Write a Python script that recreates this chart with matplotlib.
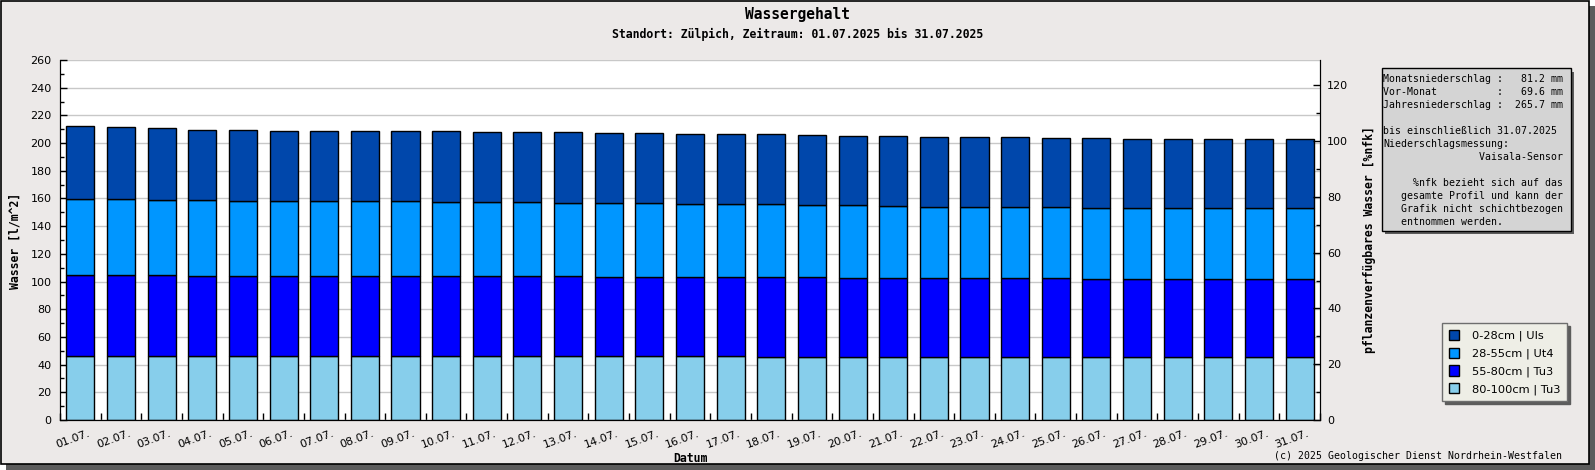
import numpy as np
import matplotlib.pyplot as plt
from matplotlib.patches import Rectangle
from matplotlib.ticker import MultipleLocator
import matplotlib.transforms as mtransforms

# --- data (l/m^2 per soil layer, 01.07.-31.07.2025) ---
days = ['01.07.', '02.07.', '03.07.', '04.07.', '05.07.', '06.07.', '07.07.', '08.07.',
        '09.07.', '10.07.', '11.07.', '12.07.', '13.07.', '14.07.', '15.07.', '16.07.',
        '17.07.', '18.07.', '19.07.', '20.07.', '21.07.', '22.07.', '23.07.', '24.07.',
        '25.07.', '26.07.', '27.07.', '28.07.', '29.07.', '30.07.', '31.07.']

l80_100 = [46.0, 46.0, 46.0, 46.0, 46.0, 46.0, 46.0, 46.0, 46.0, 46.0,
           46.0, 46.0, 46.0, 46.0, 46.0, 46.0, 46.0, 45.5, 45.5, 45.5,
           45.5, 45.5, 45.5, 45.5, 45.5, 45.5, 45.5, 45.5, 45.5, 45.5, 45.5]
l55_80 = [58.9, 58.9, 58.9, 58.2, 58.2, 58.2, 58.2, 58.2, 58.2, 58.2,
          58.2, 58.2, 58.2, 57.5, 57.5, 57.5, 57.5, 58.0, 58.0, 57.3,
          57.3, 57.3, 57.3, 57.3, 57.3, 56.5, 56.5, 56.5, 56.5, 56.5, 56.5]
l28_55 = [54.6, 54.6, 53.9, 54.6, 53.8, 53.8, 53.8, 53.8, 53.8, 53.1,
          53.1, 53.1, 52.4, 53.1, 53.1, 52.4, 52.4, 52.4, 51.7, 52.4,
          51.7, 50.9, 50.9, 50.9, 50.9, 51.0, 51.0, 51.0, 51.0, 51.0, 51.0]
l0_28 = [53.0, 52.3, 52.0, 50.6, 51.4, 50.6, 50.6, 50.6, 50.6, 51.3,
         50.6, 50.6, 51.3, 50.6, 50.6, 50.6, 50.6, 50.6, 50.5, 49.8,
         50.5, 50.6, 50.6, 50.6, 49.9, 50.6, 49.9, 49.9, 49.9, 49.9, 49.9]

layer_labels = ['0-28cm | Uls', '28-55cm | Ut4', '55-80cm | Tu3', '80-100cm | Tu3']
nfk_100 = 201.4  # l/m^2 equal to 100 %nfk

info_lines = [
    'Monatsniederschlag :   81.2 mm',
    'Vor-Monat          :   69.6 mm',
    'Jahresniederschlag :  265.7 mm',
    '',
    'bis einschließlich 31.07.2025',
    'Niederschlagsmessung:',
    '                Vaisala-Sensor',
    '',
    '     %nfk bezieht sich auf das',
    '   gesamte Profil und kann der',
    '   Grafik nicht schichtbezogen',
    '   entnommen werden.',
]

title = 'Wassergehalt'
subtitle = 'Standort: Zülpich, Zeitraum: 01.07.2025 bis 31.07.2025'
footer = '(c) 2025 Geologischer Dienst Nordrhein-Westfalen'

c_dark = '#0047ab'
c_mid = '#0096ff'
c_blue = '#0000ff'
c_light = '#87ceeb'
mono = 'DejaVu Sans Mono'

W, H = 1595, 470
fig = plt.figure(figsize=(W / 100, H / 100), dpi=100, facecolor='white')


def fx(px):
    return px / W


def fy(py):
    return 1 - py / H


# panel with shadow
fig.add_artist(Rectangle((fx(6), 0), fx(1589), 464 / H, transform=fig.transFigure,
                         facecolor='#5c5c5c', edgecolor='none', zorder=-3))
fig.add_artist(Rectangle((fx(0.6), fy(464)), fx(1588.4), 463.4 / H, transform=fig.transFigure,
                         facecolor='#ece9e8', edgecolor='black', lw=1.2, zorder=-2))

ax = fig.add_axes([fx(60), 1 - 420 / H, fx(1260), 360 / H])
x = np.arange(len(days))
w = 0.69
kw = dict(width=w, edgecolor='black', linewidth=1.0)
b4 = ax.bar(x, l80_100, color=c_light, **kw)
bot = np.array(l80_100)
b3 = ax.bar(x, l55_80, bottom=bot, color=c_blue, **kw)
bot = bot + np.array(l55_80)
b2 = ax.bar(x, l28_55, bottom=bot, color=c_mid, **kw)
bot = bot + np.array(l28_55)
b1 = ax.bar(x, l0_28, bottom=bot, color=c_dark, **kw)

ax.set_ylim(0, 260)
ax.set_xlim(-0.5, len(days) - 0.5)
ax.yaxis.set_major_locator(MultipleLocator(20))
ax.yaxis.set_minor_locator(MultipleLocator(10))
ax.grid(axis='y', which='major', color='#c8c8c8', lw=1)
ax.set_axisbelow(True)
ax.spines['top'].set_visible(False)
ax.tick_params(axis='y', which='major', direction='in', length=5, width=1, labelsize=8, pad=6)
ax.tick_params(axis='y', which='minor', direction='in', length=3, width=1)

ax.set_xticks(x)
ax.set_xticklabels(days, rotation=20, ha='right', va='top', rotation_mode='anchor')
ax.set_xticks(np.arange(-0.5, len(days), 1), minor=True)
ax.tick_params(axis='x', which='major', length=0, labelsize=8, pad=6)
ax.tick_params(axis='x', which='minor', direction='in', length=5, width=1)
offset = mtransforms.ScaledTranslation(7.5 / 100, 0, fig.dpi_scale_trans)
for lab in ax.xaxis.get_majorticklabels():
    lab.set_transform(lab.get_transform() + offset)

ax2 = ax.twinx()
ax2.set_ylim(0, 260 * 100 / nfk_100)
ax2.yaxis.set_major_locator(MultipleLocator(20))
ax2.yaxis.set_minor_locator(MultipleLocator(10))
ax2.spines['top'].set_visible(False)
ax2.tick_params(axis='y', which='major', direction='in', length=5, width=1, labelsize=8, pad=5)
ax2.tick_params(axis='y', which='minor', direction='in', length=3, width=1)

# texts
fig.text(0.5, fy(14.5), title, family=mono, weight='bold', fontsize=10.5, ha='center', va='center')
fig.text(0.5, fy(34), subtitle, family=mono, weight='bold', fontsize=8.3, ha='center', va='center')
fig.text(fx(15), fy(241), 'Wasser [l/m^2]', family=mono, weight='bold', fontsize=8.3,
         rotation=90, ha='center', va='center')
fig.text(fx(1369), fy(240), 'pflanzenverfügbares Wasser [%nfk]', family=mono, weight='bold',
         fontsize=8.3, rotation=90, ha='center', va='center')
fig.text(fx(690), fy(458), 'Datum', family=mono, weight='bold', fontsize=8.3, ha='center', va='center')
fig.text(fx(1562), fy(456), footer, family=mono, fontsize=7.15, ha='right', va='center')

# info box
fig.add_artist(Rectangle((fx(1385), fy(234)), fx(189), 162.4 / H, transform=fig.transFigure,
                         facecolor='#5c5c5c', edgecolor='none', zorder=2))
fig.add_artist(Rectangle((fx(1381.7), fy(230.7)), fx(189), 162.4 / H, transform=fig.transFigure,
                         facecolor='#d4d4d4', edgecolor='black', lw=1, zorder=3))
for i, line in enumerate(info_lines):
    if line:
        fig.text(fx(1383.3), fy(79.3 + 13 * i), line, family=mono, fontsize=7.15,
                 ha='left', va='center', zorder=4)

leg = fig.legend([b1, b2, b3, b4], layer_labels, loc='upper left',
                 bbox_to_anchor=(fx(1442), fy(323)), borderaxespad=0, fontsize=8.2,
                 frameon=True, fancybox=False, facecolor='#eeeee6', edgecolor='#6e6e6e',
                 framealpha=1, shadow={'facecolor': '#5c5c5c', 'edgecolor': '#5c5c5c', 'alpha': 1},
                 handlelength=0.9, handleheight=1.0, handletextpad=1.1, labelspacing=0.55,
                 borderpad=0.6)
leg.get_frame().set_linewidth(1.0)

fig.savefig('out.png', dpi=100, facecolor=fig.get_facecolor())
